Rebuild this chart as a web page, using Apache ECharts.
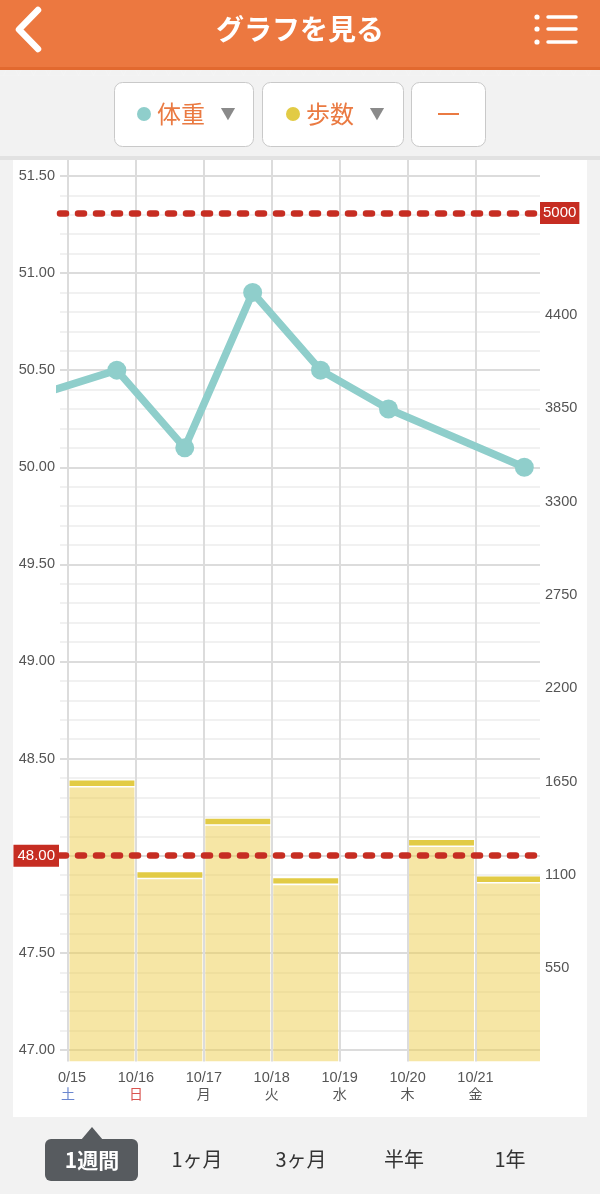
<!DOCTYPE html>
<html><head><meta charset="utf-8">
<script src="https://cdn.jsdelivr.net/npm/echarts@6/dist/echarts.min.js"></script>
<style>html,body{margin:0;padding:0;background:#f2f2f2;}#c{width:600px;height:1194px;}</style>
</head><body><div id="c"></div>
<script>
// ---- data ----
const dates = ['10/15', '10/16', '10/17', '10/18', '10/19', '10/20', '10/21'];
const weekdays = ['土', '日', '月', '火', '水', '木', '金'];
const steps = [1640, 1100, 1415, 1065, null, 1290, 1075];
const weightDates = ['10/14', '10/15', '10/16', '10/17', '10/18', '10/19', '10/21'];
const weightValues = [50.39, 50.50, 50.10, 50.90, 50.50, 50.30, 50.00];
const weightTime = '17:15';
const weightGoal = 48.00;
const stepsGoal = 5000;
const weightTicks = [47.0, 47.5, 48.0, 48.5, 49.0, 49.5, 50.0, 50.5, 51.0, 51.5];
const weightMinorTicks = [47.1, 47.2, 47.3, 47.4, 47.6, 47.7, 47.8, 47.9, 48.1, 48.2, 48.3, 48.4,
  48.6, 48.7, 48.8, 48.9, 49.1, 49.2, 49.3, 49.4, 49.6, 49.7, 49.8, 49.9, 50.1, 50.2, 50.3, 50.4,
  50.6, 50.7, 50.8, 50.9, 51.1, 51.2, 51.3, 51.4];
const stepsTicks = [550, 1100, 1650, 2200, 2750, 3300, 3850, 4400];
const dayTicks = [0, 1, 2, 3, 4, 5, 6];

// ---- helpers ----
const firstDay = 15;
const dayIndex = d => parseInt(d.split('/')[1], 10) - firstDay;
const tParts = weightTime.split(':');
const timeFrac = (parseInt(tParts[0], 10) + parseInt(tParts[1], 10) / 60) / 24;
const weightData = weightDates.map((d, i) => [dayIndex(d) + timeFrac, weightValues[i]]);
const stepsData = dates.map((d, i) => [dayIndex(d), steps[i]]);

const FONT = "'Liberation Sans', 'Noto Sans CJK JP', sans-serif";
const JP = "'Noto Sans CJK JP', sans-serif";
const RED = '#c62d22';
const TEAL = '#8fcecb';
const ORANGE = '#ea7a42';
const YEL = '#e2cb45';

// header triangle pattern (decoration)
const pattern = [];
for (let r = 0; r < 6; r++) {
  const y0 = r * 13.6 - 6;
  pattern.push({ type: 'line', shape: { x1: 0, y1: y0 + 13.6, x2: 600, y2: y0 + 13.6 },
    style: { stroke: 'rgba(255,255,255,0.14)', lineWidth: 1 }, silent: true });
  const pts = [];
  for (let k = 0; k <= 84; k++) pts.push([k * 7.5 - 4 + (r % 2) * 7.5, (k % 2) ? y0 : y0 + 13.6]);
  pattern.push({ type: 'polyline', shape: { points: pts },
    style: { stroke: 'rgba(255,255,255,0.14)', lineWidth: 1, fill: null }, silent: true });
}

const chart = echarts.init(document.getElementById('c'), null, { width: 600, height: 1194, renderer: 'canvas' });

const dotted = { color: RED, width: 6.5, type: [6, 12], cap: 'round' };

const option = {
  animation: false,
  backgroundColor: '#f2f2f2',
  grid: { left: 60, right: 60, top: 160, bottom: 132.4, containLabel: false },
  xAxis: [{
    type: 'value', min: -0.118, max: 6.95,
    axisLine: { show: false }, axisTick: { show: false, customValues: dayTicks },
    splitLine: { show: true, lineStyle: { color: '#dcdcdc', width: 2 } },
    axisLabel: {
      customValues: dayTicks, margin: 8, fontFamily: FONT, fontSize: 14, lineHeight: 16, color: '#555',
      formatter: v => {
        const i = Math.round(v);
        const key = i === 0 ? 'sat' : (i === 1 ? 'sun' : 'wd');
        return '{d|' + dates[i] + '}\n{' + key + '|' + weekdays[i] + '}';
      },
      rich: {
        d: { fontFamily: FONT, fontSize: 14.5, lineHeight: 16, color: '#555' },
        sat: { fontFamily: JP, fontSize: 14, lineHeight: 17, color: '#6a86cf' },
        sun: { fontFamily: JP, fontSize: 14, lineHeight: 17, color: '#d9534f' },
        wd: { fontFamily: JP, fontSize: 14, lineHeight: 17, color: '#555' }
      }
    }
  }],
  yAxis: [{
    type: 'value', min: 46.94, max: 51.582, position: 'left',
    axisLine: { show: false }, axisTick: { show: false, customValues: weightTicks },
    splitLine: { show: true, lineStyle: { color: '#dcdcdc', width: 2 } },
    axisLabel: { customValues: weightTicks, margin: 5, fontFamily: FONT, fontSize: 14.5, color: '#555',
      formatter: v => v.toFixed(2) }
  }, {
    type: 'value', min: 0, max: 5313, interval: 550, position: 'right',
    axisLine: { show: false }, axisTick: { show: false, customValues: stepsTicks },
    splitLine: { show: false },
    axisLabel: { customValues: stepsTicks, margin: 5, fontFamily: FONT, fontSize: 14.5, color: '#555',
      formatter: v => String(v) }
  }, {
    type: 'value', min: 46.94, max: 51.582, position: 'left',
    axisLine: { show: false }, axisTick: { show: false, customValues: weightMinorTicks },
    splitLine: { show: true, lineStyle: { color: '#ededed', width: 1.5 } },
    axisLabel: { show: false, customValues: weightMinorTicks }
  }],
  series: [{
    name: '歩数', type: 'custom', xAxisIndex: 0, yAxisIndex: 1, z: 2, clip: true,
    data: stepsData,
    renderItem: (params, api) => {
      const d = api.value(0), v = api.value(1);
      if (v == null || isNaN(v)) return null;
      const base = api.coord([d, 0]);
      const top = api.coord([d + 1, v]);
      const x0 = base[0] + 1.5, w = top[0] - base[0] - 3;
      const yT = top[1];
      return {
        type: 'group', children: [
          { type: 'rect', shape: { x: x0, y: yT + 4.3, width: w, height: base[1] - yT - 4.3 },
            style: { fill: 'rgba(237,205,75,0.5)' } },
          { type: 'rect', shape: { x: x0, y: yT - 2.7, width: w, height: 5.4 },
            style: { fill: YEL } }
        ]
      };
    }
  }, {
    name: '歩数目標', type: 'line', xAxisIndex: 0, yAxisIndex: 1, z: 4, data: [],
    markLine: {
      silent: true, symbol: ['none', 'none'], animation: false,
      lineStyle: dotted,
      label: { show: true, position: 'end', distance: 0, formatter: String(stepsGoal),
        color: '#fff', backgroundColor: RED, padding: [4, 3, 3, 3], fontFamily: FONT, fontSize: 15 },
      emphasis: { disabled: true },
      data: [{ yAxis: stepsGoal }]
    }
  }, {
    name: '体重', type: 'line', xAxisIndex: 0, yAxisIndex: 0, z: 3, clip: true,
    data: weightData, symbol: 'circle', symbolSize: 19, showSymbol: true,
    itemStyle: { color: TEAL }, lineStyle: { color: TEAL, width: 7.5 },
    markLine: {
      silent: true, symbol: ['none', 'none'], animation: false, z: 5,
      lineStyle: dotted,
      label: { show: true, position: 'start', distance: 1, formatter: weightGoal.toFixed(2),
        color: '#fff', backgroundColor: RED, padding: [4, 4, 3, 4], fontFamily: FONT, fontSize: 15 },
      emphasis: { disabled: true },
      data: [{ yAxis: weightGoal }]
    }
  }],
  graphic: [
    // white chart panel
    { type: 'rect', z: -10, shape: { x: 13, y: 160, width: 574, height: 957 }, style: { fill: '#fff' }, silent: true },
    // header
    { type: 'rect', z: 10, shape: { x: 0, y: 0, width: 600, height: 70 }, style: { fill: '#ec7840' }, silent: true },
    { type: 'group', z: 11, children: pattern },
    { type: 'rect', z: 12, shape: { x: 0, y: 67, width: 600, height: 3 }, style: { fill: '#e2692f' }, silent: true },
    { type: 'polyline', z: 13, shape: { points: [[38, 10], [19, 29.5], [38, 49]] },
      style: { stroke: '#fff', lineWidth: 6.5, lineCap: 'round', lineJoin: 'round', fill: null }, silent: true },
    { type: 'text', z: 13, x: 300, y: 29, style: { text: 'グラフを見る', fill: '#fff', font: 'bold 28px ' + JP, align: 'center', verticalAlign: 'middle' }, silent: true },
    { type: 'circle', z: 13, shape: { cx: 537, cy: 17, r: 2.6 }, style: { fill: '#fff' } },
    { type: 'circle', z: 13, shape: { cx: 537, cy: 29, r: 2.6 }, style: { fill: '#fff' } },
    { type: 'circle', z: 13, shape: { cx: 537, cy: 42, r: 2.6 }, style: { fill: '#fff' } },
    { type: 'line', z: 13, shape: { x1: 548, y1: 17, x2: 576, y2: 17 }, style: { stroke: '#fff', lineWidth: 3.5, lineCap: 'round' } },
    { type: 'line', z: 13, shape: { x1: 548, y1: 29, x2: 576, y2: 29 }, style: { stroke: '#fff', lineWidth: 3.5, lineCap: 'round' } },
    { type: 'line', z: 13, shape: { x1: 548, y1: 42, x2: 576, y2: 42 }, style: { stroke: '#fff', lineWidth: 3.5, lineCap: 'round' } },
    // divider under buttons strip
    { type: 'rect', z: -9, shape: { x: 0, y: 156, width: 600, height: 4 }, style: { fill: '#e2e2e2' }, silent: true },
    // buttons
    { type: 'rect', z: 13, shape: { x: 114.5, y: 82.5, width: 139, height: 64, r: 8 }, style: { fill: '#fff', stroke: '#c9c9c9', lineWidth: 1 } },
    { type: 'circle', z: 14, shape: { cx: 144, cy: 114, r: 7 }, style: { fill: TEAL } },
    { type: 'text', z: 14, x: 157, y: 114, style: { text: '体重', fill: ORANGE, font: '24px ' + JP, align: 'left', verticalAlign: 'middle' } },
    { type: 'text', z: 14, x: 228, y: 113, style: { text: '▼', fill: '#8a8a8a', font: '15px ' + JP, align: 'center', verticalAlign: 'middle' } },
    { type: 'rect', z: 13, shape: { x: 262.5, y: 82.5, width: 141, height: 64, r: 8 }, style: { fill: '#fff', stroke: '#c9c9c9', lineWidth: 1 } },
    { type: 'circle', z: 14, shape: { cx: 293, cy: 114, r: 7 }, style: { fill: YEL } },
    { type: 'text', z: 14, x: 306, y: 114, style: { text: '歩数', fill: ORANGE, font: '24px ' + JP, align: 'left', verticalAlign: 'middle' } },
    { type: 'text', z: 14, x: 377, y: 113, style: { text: '▼', fill: '#8a8a8a', font: '15px ' + JP, align: 'center', verticalAlign: 'middle' } },
    { type: 'rect', z: 13, shape: { x: 411.5, y: 82.5, width: 74, height: 64, r: 8 }, style: { fill: '#fff', stroke: '#c9c9c9', lineWidth: 1 } },
    { type: 'line', z: 14, shape: { x1: 438, y1: 114, x2: 459, y2: 114 }, style: { stroke: ORANGE, lineWidth: 2 } },
    // clip mask for first date label (scrolled chart)
    { type: 'rect', zlevel: 1, shape: { x: 13, y: 1064, width: 44.5, height: 20 }, style: { fill: '#fff' }, silent: true },
    // bottom period tabs
    { type: 'rect', z: 13, shape: { x: 45, y: 1139, width: 93, height: 42, r: 6 }, style: { fill: '#575b5f' } },
    { type: 'polygon', z: 13, shape: { points: [[81, 1140], [92, 1127], [103, 1140]] }, style: { fill: '#575b5f' } },
    { type: 'text', z: 14, x: 92, y: 1160, style: { text: '1週間', fill: '#fff', font: 'bold 21px ' + JP, align: 'center', verticalAlign: 'middle' } },
    { type: 'text', z: 14, x: 197, y: 1159, style: { text: '1ヶ月', fill: '#333', font: '20px ' + JP, align: 'center', verticalAlign: 'middle' } },
    { type: 'text', z: 14, x: 301, y: 1159, style: { text: '3ヶ月', fill: '#333', font: '20px ' + JP, align: 'center', verticalAlign: 'middle' } },
    { type: 'text', z: 14, x: 404, y: 1159, style: { text: '半年', fill: '#333', font: '20px ' + JP, align: 'center', verticalAlign: 'middle' } },
    { type: 'text', z: 14, x: 510, y: 1159, style: { text: '1年', fill: '#333', font: '20px ' + JP, align: 'center', verticalAlign: 'middle' } }
  ]
};
chart.setOption(option);
</script>
</body></html>
